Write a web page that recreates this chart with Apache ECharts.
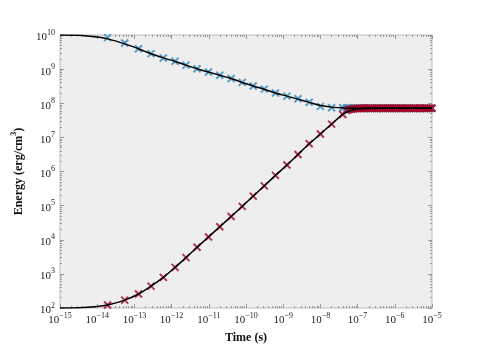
<!DOCTYPE html>
<html>
<head>
<meta charset="utf-8">
<script src="https://cdn.jsdelivr.net/npm/echarts@6/dist/echarts.min.js"></script>
<style>
    html, body { margin: 0; padding: 0; background: #fff; }
    #chart { width: 480px; height: 349px; }
</style>
</head>
<body>
<div id="chart"></div>
<script>
// sampled times (s) of the simulation output (step doubles, then is capped -> dense band)
const markTime = [1.9e-14, 5.5e-14, 1.29e-13, 2.8e-13, 6.0e-13, 1.24e-12, 2.44e-12, 4.84e-12, 9.8e-12, 1.97e-11,
    3.98e-11, 7.9e-11, 1.56e-10, 3.1e-10, 6.2e-10, 1.26e-9, 2.5e-9, 5.0e-9, 1.0e-8, 2.0e-8, 4.0e-8,
    5e-8, 5.6e-8, 6.3e-8, 7.1e-8, 8e-8, 8.9e-8,
    1e-7, 1.12e-7, 1.26e-7, 1.41e-7, 1.58e-7, 1.78e-7, 2e-7, 2.24e-7, 2.5e-7, 2.8e-7,
    3.2e-7, 3.5e-7, 4e-7, 4.5e-7, 5e-7, 5.6e-7, 6.3e-7, 7.1e-7, 8e-7, 8.9e-7,
    1e-6, 1.12e-6, 1.26e-6, 1.41e-6, 1.58e-6, 1.78e-6, 2e-6, 2.24e-6, 2.5e-6, 2.8e-6,
    3.2e-6, 3.5e-6, 4e-6, 4.5e-6, 5e-6, 5.6e-6, 6.3e-6, 7.1e-6, 8e-6, 8.9e-6, 1e-5]
// radiation energy (blue) and gas energy (red), erg/cm^3
const blueEnergy = [8.4e9, 5.8e9, 3.95e9, 2.84e9, 2.13e9, 1.71e9, 1.31e9, 1.03e9, 8.2e8, 6.6e8,
    5.3e8, 4.1e8, 3.2e8, 2.6e8, 2.0e8, 1.62e8, 1.35e8, 1.07e8, 8.1e7, 7.4e7, 7.4e7,
    7.3e7, 7.3e7, 7.2e7, 7.2e7, 7.1e7, 7.1e7,
    7.1e7, 7.1e7, 7.1e7, 7.1e7, 7.1e7, 7.1e7, 7.1e7, 7.1e7, 7.1e7, 7.1e7,
    7.1e7, 7.1e7, 7.1e7, 7.1e7, 7.1e7, 7.1e7, 7.1e7, 7.1e7, 7.1e7, 7.1e7,
    7.1e7, 7.1e7, 7.1e7, 7.1e7, 7.1e7, 7.1e7, 7.1e7, 7.1e7, 7.1e7, 7.1e7,
    7.1e7, 7.1e7, 7.1e7, 7.1e7, 7.1e7, 7.1e7, 7.1e7, 7.1e7, 7.1e7, 7.1e7, 7.1e7]
const redEnergy = [1.22e2, 1.7e2, 2.57e2, 4.37e2, 7.9e2, 1.55e3, 3.0e3, 6.0e3, 1.2e4, 2.4e4,
    4.8e4, 9.5e4, 1.9e5, 3.8e5, 7.7e5, 1.55e6, 3.16e6, 6.5e6, 1.26e7, 2.45e7, 4.7e7,
    6.2e7, 6.4e7, 6.6e7, 6.8e7, 6.9e7, 7.0e7,
    7.0e7, 7.1e7, 7.1e7, 7.1e7, 7.1e7, 7.1e7, 7.1e7, 7.1e7, 7.1e7, 7.1e7,
    7.1e7, 7.1e7, 7.1e7, 7.1e7, 7.1e7, 7.1e7, 7.1e7, 7.1e7, 7.1e7, 7.1e7,
    7.1e7, 7.1e7, 7.1e7, 7.1e7, 7.1e7, 7.1e7, 7.1e7, 7.1e7, 7.1e7, 7.1e7,
    7.1e7, 7.1e7, 7.1e7, 7.1e7, 7.1e7, 7.1e7, 7.1e7, 7.1e7, 7.1e7, 7.1e7, 7.1e7]

// analytic curves (black)
const curveTime = [1e-15, 3.2e-15, 1e-14, 1.9e-14, 5.5e-14, 1.29e-13, 2.8e-13, 6.0e-13, 1.24e-12, 2.44e-12,
    4.84e-12, 9.8e-12, 1.97e-11, 3.98e-11, 7.9e-11, 1.56e-10, 3.1e-10, 6.2e-10, 1.26e-9, 2.5e-9,
    5.0e-9, 1.0e-8, 2.0e-8, 4.0e-8, 6.3e-8, 1.0e-7, 1.6e-7, 1e-6, 1e-5]
const upperCurve = [1.0e10, 9.8e9, 8.7e9, 7.7e9, 5.5e9, 3.95e9, 2.82e9, 2.14e9, 1.68e9, 1.31e9,
    1.03e9, 8.24e8, 6.6e8, 5.3e8, 4.07e8, 3.2e8, 2.57e8, 2.0e8, 1.62e8, 1.32e8,
    1.06e8, 8.6e7, 7.7e7, 7.3e7, 7.15e7, 7.1e7, 7.1e7, 7.1e7, 7.1e7]
const lowerCurve = [1.0e2, 1.02e2, 1.1e2, 1.22e2, 1.7e2, 2.57e2, 4.37e2, 7.9e2, 1.55e3, 3.0e3,
    6.0e3, 1.2e4, 2.4e4, 4.8e4, 9.5e4, 1.9e5, 3.8e5, 7.7e5, 1.55e6, 3.16e6,
    6.5e6, 1.26e7, 2.45e7, 4.7e7, 6.0e7, 6.8e7, 7.0e7, 7.1e7, 7.1e7]

// tick values
const xMajor = [1e-15, 1e-14, 1e-13, 1e-12, 1e-11, 1e-10, 1e-9, 1e-8, 1e-7, 1e-6, 1e-5]
const yMajor = [1e2, 1e3, 1e4, 1e5, 1e6, 1e7, 1e8, 1e9, 1e10]

const minorOf = (majors) => {
    let res = []
    for (let i = 0; i < majors.length - 1; i++) {
        for (let k = 2; k <= 9; k++) res.push(majors[i] * k)
    }
    return res
}
const xMinor = minorOf(xMajor)
const yMinor = minorOf(yMajor)

const pairs = (xs, ys) => xs.map((x, i) => [x, ys[i]])

const serif = '"Liberation Serif", "DejaVu Serif", serif'
const tickColor = '#9a9a9a'

const powLabel = (v) => {
    const e = Math.round(Math.log10(v))
    return '{b|10}{s|' + (e < 0 ? '\u2212' + (-e) : e) + '}'
}
const labelRich = {
    b: { fontFamily: serif, fontSize: 11, color: '#222', padding: [5, 0, 0, 0] },
    s: { fontFamily: serif, fontSize: 8, color: '#222', padding: [0, 0, 5, 0] }
}

const makeAxis = (type, pos, min, max, values, len, labels) => {
    return {
        type: 'log',
        logBase: 10,
        min: min,
        max: max,
        position: pos,
        axisLine: { show: false },
        splitLine: { show: false },
        axisTick: { show: true, inside: true, length: len, customValues: values, lineStyle: { color: tickColor, width: 1 } },
        axisLabel: labels ? {
            show: true, customValues: values, formatter: powLabel, rich: labelRich,
            margin: type == 'x' ? 2 : 5, color: '#222'
        } : { show: false }
    }
}

const xAxes = [
    makeAxis('x', 'bottom', 1e-15, 1e-5, xMajor, 4, true),
    makeAxis('x', 'bottom', 1e-15, 1e-5, xMinor, 2, false),
    makeAxis('x', 'top', 1e-15, 1e-5, xMajor, 4, false),
    makeAxis('x', 'top', 1e-15, 1e-5, xMinor, 2, false)
]
xAxes[0].name = 'Time (s)'
xAxes[0].nameLocation = 'middle'
xAxes[0].nameGap = 24
xAxes[0].nameTextStyle = { fontFamily: serif, fontSize: 12, fontWeight: 'bold', color: '#111' }

const yAxes = [
    makeAxis('y', 'left', 1e2, 1e10, yMajor, 4, true),
    makeAxis('y', 'left', 1e2, 1e10, yMinor, 2, false),
    makeAxis('y', 'right', 1e2, 1e10, yMajor, 4, false),
    makeAxis('y', 'right', 1e2, 1e10, yMinor, 2, false)
]
yAxes[0].name = '{n|Energy (erg/cm}{s|3}{n|)}'
yAxes[0].nameLocation = 'middle'
yAxes[0].nameGap = 30
yAxes[0].nameTextStyle = {
    rich: {
        n: { fontFamily: serif, fontSize: 12, fontWeight: 'bold', color: '#111', padding: [4, 0, 0, 0] },
        s: { fontFamily: serif, fontSize: 8, fontWeight: 'bold', color: '#111', padding: [0, 0, 6, 0] }
    }
}

const xMark = 'path://M0,0L10,10M10,0L0,10'

const option = {
    animation: false,
    grid: {
        left: 60, top: 35, width: 372, height: 279,
        show: true, backgroundColor: '#eeeeee', borderColor: '#bcbcbc', borderWidth: 1
    },
    xAxis: xAxes,
    yAxis: yAxes,
    series: [
        {
            name: 'radiation',
            type: 'scatter',
            data: pairs(markTime, blueEnergy),
            symbol: xMark,
            symbolSize: 7,
            itemStyle: { color: '#348ABD', borderColor: '#348ABD', borderWidth: 2 },
            z: 2
        },
        {
            name: 'gas',
            type: 'scatter',
            data: pairs(markTime, redEnergy),
            symbol: xMark,
            symbolSize: 7,
            itemStyle: { color: '#A60628', borderColor: '#A60628', borderWidth: 2 },
            z: 3
        },
        {
            type: 'line',
            data: pairs(curveTime, upperCurve),
            showSymbol: false,
            smooth: 0.3,
            lineStyle: { color: '#000', width: 1.5 },
            z: 4
        },
        {
            type: 'line',
            data: pairs(curveTime, lowerCurve),
            showSymbol: false,
            smooth: 0.3,
            lineStyle: { color: '#000', width: 1.5 },
            z: 4
        }
    ]
}

const myChart = echarts.init(document.getElementById('chart'))
myChart.setOption(option)
</script>
</body>
</html>
